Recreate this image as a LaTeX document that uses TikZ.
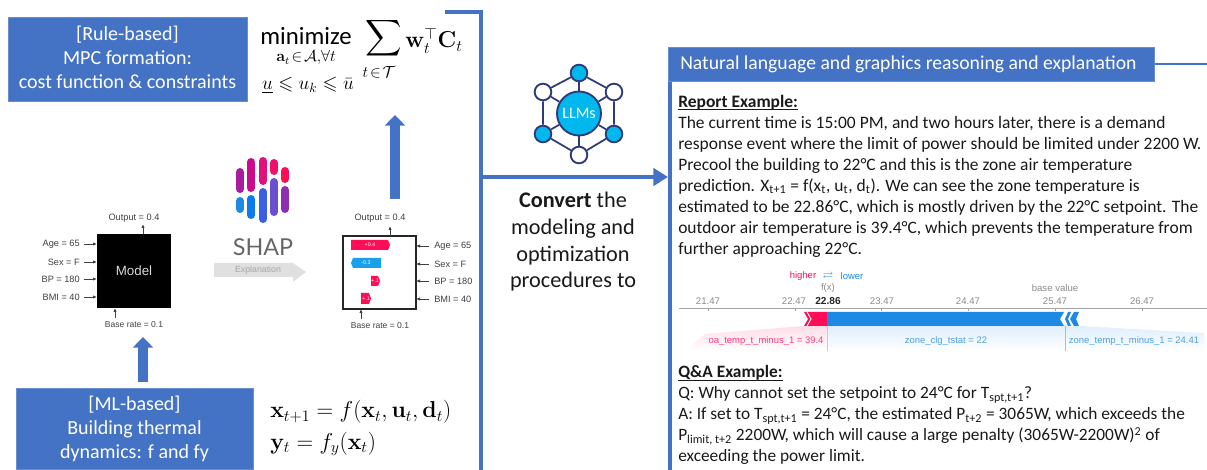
\documentclass[tikz,border=0pt]{standalone}
\usepackage{amsmath,amssymb}
\usepackage[no-math]{fontspec}
\setmainfont{Carlito}
\newfontfamily\shapfont{Liberation Sans}
\newfontfamily\logofont{Lato}
\usetikzlibrary{arrows.meta}
\definecolor{panelblue}{HTML}{4472C4}
\definecolor{llmcyan}{HTML}{00B7EE}
\definecolor{llmnavy}{HTML}{2E3A7A}
\definecolor{shappink}{HTML}{FF0D57}
\definecolor{shapblue}{HTML}{1E88E5}
\definecolor{shapgrey}{HTML}{8A8A8A}
\newcommand{\headline}[1]{\vphantom{\textbf{#1}}\underline{\smash{\textbf{#1}}}}
\tikzset{
  bluebox/.style={draw=panelblue!80!white, fill=panelblue, text=white, align=center, inner sep=0pt},
  boxtext/.style={text=white, align=center, font=\fontsize{15}{18}\selectfont},
  rail/.style={draw=panelblue, line width=3.2pt},
  blockarrow/.style={draw=panelblue, line width=7.5pt, -{Triangle[length=8pt, width=15pt]}},
  shaplabel/.style={text=black!75, font=\shapfont\fontsize{6.9}{8}\selectfont, inner sep=0pt},
  baselabel/.style={text=black!75, font=\shapfont\fontsize{6.4}{8}\selectfont, inner sep=0pt},
  tinyarrow/.style={draw=black!75, line width=0.6pt, -{Latex[length=3pt, width=2.5pt]}},
  axislabel/.style={text=shapgrey, font=\shapfont\fontsize{7.2}{8}\selectfont, inner sep=0pt},
  plotlabel/.style={font=\shapfont\fontsize{7.1}{8}\selectfont, inner sep=0pt},
  logobar/.style={line width=6pt, line cap=round},
  llmnode/.style={circle, draw=llmnavy, line width=1.4pt, minimum size=12.5pt, inner sep=0pt},
  llmedge/.style={draw=llmnavy, line width=1.3pt},
  bodytext/.style={align=left, anchor=north west, inner sep=0pt, text=black!90,
    font=\fontsize{13.1}{15.75}\selectfont},
  formula/.style={inner sep=0pt, text=black}
}
\definecolor{barone}{HTML}{A81D9E}
\definecolor{bartwo}{HTML}{CC0A8E}
\definecolor{barthree}{HTML}{E0107C}
\definecolor{barfour}{HTML}{F0106A}
\definecolor{barfive}{HTML}{0A7CF0}
\definecolor{barsix}{HTML}{3A5FE0}
\definecolor{barseven}{HTML}{6A4FD0}
\definecolor{bareight}{HTML}{8E2FB0}
\begin{document}
\begin{tikzpicture}[x=0.75pt, y=-0.75pt]
    \useasboundingbox (0, 0) rectangle (1207, 470);

    % Frame rails
    \coordinate (railtop) at (445, 12);
    \coordinate (railcorner) at (481, 12);
    \coordinate (railend) at (481, 470);
    \draw [rail] (railtop) -- (railcorner) -- (railend);
    \coordinate (panelend) at (670, 470);

    % Rule based box
    \node (rulebox) [bluebox, minimum width=179pt, minimum height=63pt] at (127.5, 59) {};
    \node (ruletext) [boxtext] at (127.5, 57.5) {[Rule-based]\\MPC formation:\\cost function \& constraints};

    % MPC formula
    \node (minword) [formula] at (306, 36) {\fontsize{18.6}{20}\selectfont minimize};
    \node (minsub) [formula] at (306, 58) {\fontsize{11.5}{13}\selectfont $\mathbf{a}_t\!\in\!\mathcal{A},\!\forall t$};
    \node (sumsign) [formula] at (384, 38) {\fontsize{19}{22}\selectfont $\displaystyle\sum$};
    \node (sumsub) [formula] at (379, 72) {\fontsize{12}{14}\selectfont $t\!\in\!\mathcal{T}$};
    \node (sumterm) [formula] at (434, 41) {\fontsize{17}{20}\selectfont $\mathbf{w}_t^{\top}\mathbf{C}_t$};
    \node (bounds) [formula] at (308, 85) {\fontsize{14.5}{17}\selectfont $\underline{u}\leqslant u_k\leqslant \bar{u}$};

    % Arrow up to formula
    \coordinate (upfrom) at (395, 199);
    \coordinate (upto) at (395, 115);
    \draw [blockarrow] (upfrom) -- (upto);

    % SHAP logo
    \draw [logobar, draw=barone] (240, 172) -- (240, 189);
    \draw [logobar, draw=bartwo] (251, 162) -- (251, 188);
    \draw [logobar, draw=barthree] (263, 161) -- (263, 181);
    \draw [logobar, draw=barfour] (274, 163) -- (274, 171);
    \draw [logobar, draw=shappink] (285, 171) -- (285, 179);
    \draw [logobar, draw=shapblue] (240, 201) -- (240, 209);
    \draw [logobar, draw=barfive] (251, 199) -- (251, 215);
    \draw [logobar, draw=barsix] (263, 192) -- (263, 219);
    \draw [logobar, draw=barseven] (274, 182) -- (274, 212);
    \draw [logobar, draw=bareight] (285, 190) -- (285, 209);
    \node (shapword) [text=black!60, inner sep=0pt, font=\logofont\fontsize{17.5}{20}\selectfont] at (263, 247) {SHAP};

    % Explanation arrow
    \fill [black!12] (214, 263) -- (293, 263) -- (306, 272) -- (293, 282) -- (293, 277) -- (214, 277) -- cycle;
    \node (explain) [text=black!35, inner sep=0pt, font=\shapfont\fontsize{6.6}{8}\selectfont] at (258, 270) {Explanation};

    % Model box
    \node (model) [fill=black, text=white!85!black, minimum width=55.5pt, minimum height=55.5pt, inner sep=0pt,
          font=\shapfont\fontsize{10}{12}\selectfont] at (134, 271) {Model};
    \node (moutput) [shaplabel] at (134, 218) {Output = 0.4};
    \coordinate (mout) at (143, 224);
    \coordinate (mtop) at (143, 234);
    \draw [tinyarrow] (mtop) -- (mout);
    \node (mbase) [baselabel] at (134, 325) {Base rate = 0.1};
    \coordinate (mbasefrom) at (115, 318);
    \coordinate (mbaseto) at (115, 308);
    \draw [tinyarrow] (mbasefrom) -- (mbaseto);

    % Model inputs
    \node (mage) [shaplabel, anchor=east] at (80, 244) {Age = 65};
    \node (msex) [shaplabel, anchor=east] at (80, 262) {Sex = F};
    \node (mbp) [shaplabel, anchor=east] at (80, 279) {BP = 180};
    \node (mbmi) [shaplabel, anchor=east] at (80, 297) {BMI = 40};
    \coordinate (magefrom) at (84, 244);
    \coordinate (mageto) at (97, 244);
    \coordinate (msexfrom) at (84, 262);
    \coordinate (msexto) at (97, 262);
    \coordinate (mbpfrom) at (84, 279);
    \coordinate (mbpto) at (97, 279);
    \coordinate (mbmifrom) at (84, 297);
    \coordinate (mbmito) at (97, 297);
    \draw [tinyarrow] (magefrom) -- (mageto);
    \draw [tinyarrow] (msexfrom) -- (msexto);
    \draw [tinyarrow] (mbpfrom) -- (mbpto);
    \draw [tinyarrow] (mbmifrom) -- (mbmito);

    % Explained model box
    \node (shapbox) [draw=black!85, line width=1.5pt, minimum width=54.5pt, minimum height=54.5pt, inner sep=0pt] at (379.5, 272.5) {};
    \fill [shappink] (351, 240) -- (388, 240) -- (390, 245) -- (388, 250) -- (351, 250) -- cycle;
    \fill [shapblue!80!cyan] (353, 258) -- (381, 258) -- (381, 268) -- (353, 268) -- (351, 263) -- cycle;
    \fill [shappink] (371, 276) -- (378, 276) -- (380, 281) -- (378, 286) -- (371, 286) -- cycle;
    \fill [shappink] (361, 293) -- (369, 293) -- (371, 298.5) -- (369, 304) -- (361, 304) -- cycle;
    \node (rowone) [text=white, inner sep=0pt, font=\shapfont\fontsize{4}{5}\selectfont] at (370, 245) {+0.4};
    \node (rowtwo) [text=white, inner sep=0pt, font=\shapfont\fontsize{4}{5}\selectfont] at (366, 263) {-0.3};
    \node (rowthree) [text=white, inner sep=0pt, font=\shapfont\fontsize{4}{5}\selectfont] at (375, 281) {+.1};
    \node (rowfour) [text=white, inner sep=0pt, font=\shapfont\fontsize{4}{5}\selectfont] at (366, 298.5) {+.1};
    \node (soutput) [shaplabel] at (380, 218.5) {Output = 0.4};
    \coordinate (sout) at (390, 226);
    \coordinate (stop) at (390, 236);
    \draw [tinyarrow] (stop) -- (sout);
    \node (sbase) [baselabel] at (380, 326) {Base rate = 0.1};
    \coordinate (sbasefrom) at (361, 319);
    \coordinate (sbaseto) at (361, 309);
    \draw [tinyarrow] (sbasefrom) -- (sbaseto);

    % Explained model inputs
    \node (sage) [shaplabel, anchor=west] at (434, 246) {Age = 65};
    \node (ssex) [shaplabel, anchor=west] at (434, 264) {Sex = F};
    \node (sbp) [shaplabel, anchor=west] at (434, 281) {BP = 180};
    \node (sbmi) [shaplabel, anchor=west] at (434, 299) {BMI = 40};
    \coordinate (sagefrom) at (429, 246);
    \coordinate (sageto) at (416, 246);
    \coordinate (ssexfrom) at (429, 264);
    \coordinate (ssexto) at (416, 264);
    \coordinate (sbpfrom) at (429, 281);
    \coordinate (sbpto) at (416, 281);
    \coordinate (sbmifrom) at (429, 299);
    \coordinate (sbmito) at (416, 299);
    \draw [tinyarrow] (sagefrom) -- (sageto);
    \draw [tinyarrow] (ssexfrom) -- (ssexto);
    \draw [tinyarrow] (sbpfrom) -- (sbpto);
    \draw [tinyarrow] (sbmifrom) -- (sbmito);

    % Arrow up from ML box
    \coordinate (mlfrom) at (143, 382);
    \coordinate (mlto) at (143, 337);
    \draw [blockarrow] (mlfrom) -- (mlto);

    % ML based box
    \node (mlbox) [bluebox, minimum width=177.5pt, minimum height=61pt, anchor=north west] at (16, 388) {};
    \node (mltext) [boxtext] at (134.5, 428.5) {[ML-based]\\Building thermal\\dynamics: f and fy};

    % Dynamics formula
    \node (dynone) [formula, anchor=west] at (270, 412) {\fontsize{16.5}{20}\selectfont $\mathbf{x}_{t+1}=f(\mathbf{x}_t,\mathbf{u}_t,\mathbf{d}_t)$};
    \node (dyntwo) [formula, anchor=west] at (270, 444) {\fontsize{16.5}{20}\selectfont $\mathbf{y}_t=f_y(\mathbf{x}_t)$};

    % LLM icon
    \node (llmcore) [circle, draw=llmnavy, fill=llmcyan, line width=1.4pt, minimum size=33pt, inner sep=0pt,
          text=white, font=\fontsize{12}{14}\selectfont] at (579, 113.5) {LLMs};
    \node (llmtop) [llmnode, fill=llmcyan] at (579, 73) {};
    \node (llmtl) [llmnode, fill=white] at (543, 92) {};
    \node (llmtr) [llmnode, fill=white] at (614, 92) {};
    \node (llmbl) [llmnode, fill=llmcyan] at (543, 134) {};
    \node (llmbr) [llmnode, fill=llmcyan] at (614, 134) {};
    \node (llmbot) [llmnode, fill=white] at (579, 155) {};
    \draw [llmedge] (llmtop) -- (llmtl) -- (llmbl) -- (llmbot) -- (llmbr) -- (llmtr) -- (llmtop);
    \draw [llmedge] (llmcore) -- (llmtop);
    \draw [llmedge] (llmcore) -- (llmtl);
    \draw [llmedge] (llmcore) -- (llmtr);
    \draw [llmedge] (llmcore) -- (llmbl);
    \draw [llmedge] (llmcore) -- (llmbr);
    \draw [llmedge] (llmcore) -- (llmbot);

    % Convert arrow
    \coordinate (convfrom) at (481, 177);
    \coordinate (convto) at (668, 177);
    \draw [draw=panelblue, line width=3.2pt, -{Triangle[length=11pt, width=13pt]}] (convfrom) -- (convto);
    \node (convtext) [align=center, inner sep=0pt, text=black!90, font=\fontsize{16.7}{20}\selectfont] at (573, 242)
          {\textbf{Convert} the\\modeling and\\optimization\\procedures to};

    % Right panel
    \node (headbox) [bluebox, minimum width=364.5pt, minimum height=25.5pt, anchor=north west] at (668, 47) {};
    \node (headtext) [text=white, inner sep=0pt, anchor=west, font=\fontsize{14.75}{17}\selectfont] at (680, 64)
          {Natural language and graphics reasoning and explanation};
    \coordinate (headend) at (1207, 64);
    \draw [draw=panelblue, line width=2.2pt] (headbox.east |- headend) -- (headend);
    \draw [rail] (headbox.south west -| panelend) -- (panelend);

    % Report example
    \node (report) [bodytext] at (678, 94.5) {\headline{Report Example:}\\
      The current time is 15:00 PM, and two hours later, there is a demand\\
      response event where the limit of power should be limited under 2200 W.\\
      Precool the building to 22°C and this is the zone air temperature\\
      prediction. X\textsubscript{t+1} = f(x\textsubscript{t}, u\textsubscript{t}, d\textsubscript{t}). We can see the zone temperature is\\
      estimated to be 22.86°C, which is mostly driven by the 22°C setpoint. The\\
      outdoor air temperature is 39.4°C, which prevents the temperature from\\
      further approaching 22°C.};

    % Force plot labels
    \node (higher) [plotlabel, text=shappink] at (803, 276) {higher};
    \node (swap) [plotlabel, text=shapblue] at (828, 276) {$\rightleftarrows$};
    \node (lower) [plotlabel, text=shapblue] at (852, 276) {lower};
    \node (fofx) [axislabel] at (828, 288) {f(x)};
    \node (basevalue) [axislabel] at (1055, 288) {base value};
    \node (tickone) [axislabel] at (708, 301) {21.47};
    \node (ticktwo) [axislabel] at (794, 301) {22.47};
    \node (tickval) [plotlabel, text=black!85, font=\shapfont\bfseries\fontsize{7.6}{8}\selectfont] at (828, 301) {22.86};
    \node (tickthree) [axislabel] at (882, 301) {23.47};
    \node (tickfour) [axislabel] at (968, 301) {24.47};
    \node (tickfive) [axislabel] at (1055, 301) {25.47};
    \node (ticksix) [axislabel] at (1142, 301) {26.47};

    % Force plot axis
    \draw [black!35, line width=0.7pt] (679, 308) -- (1207, 308);
    \draw [black!35, line width=0.6pt] (708, 308) -- (708, 311);
    \draw [black!35, line width=0.6pt] (795, 308) -- (795, 311);
    \draw [black!35, line width=0.6pt] (881, 308) -- (881, 311);
    \draw [black!35, line width=0.6pt] (968, 308) -- (968, 311);
    \draw [black!35, line width=0.6pt] (1055, 308) -- (1055, 311);
    \draw [black!35, line width=0.6pt] (1142, 308) -- (1142, 311);

    % Force plot fans
    \shade [top color=shappink!14, bottom color=white] (705, 334) -- (804, 326) -- (827, 326) -- (827, 351) -- (685, 351) -- cycle;
    \shade [top color=shapblue!14, bottom color=white] (827, 326) -- (1065, 326) -- (1065, 351) -- (827, 351) -- cycle;
    \shade [top color=shapblue!14, bottom color=white] (1065, 326) -- (1079, 326) -- (1204, 333) -- (1204, 351) -- (1065, 351) -- cycle;
    \draw [shappink!30, line width=0.6pt] (827, 326) -- (827, 351);
    \draw [shapblue!50, line width=0.6pt] (1065, 326) -- (1065, 351);

    % Force plot bars
    \fill [shappink] (804, 312) -- (827, 312) -- (827, 326) -- (804, 326) -- (808, 319) -- cycle;
    \draw [white, line width=0.7pt] (807, 312) -- (811, 319) -- (807, 326);
    \fill [shapblue] (827, 312) -- (1064, 312) -- (1060, 319) -- (1064, 326) -- (827, 326) -- cycle;
    \fill [shapblue] (1065, 319) -- (1068, 312) -- (1071, 312) -- (1068, 319) -- (1071, 326) -- (1068, 326) -- cycle;
    \fill [shapblue] (1070, 319) -- (1074, 312) -- (1079, 312) -- (1076, 319) -- (1079, 326) -- (1074, 326) -- cycle;
    \node (oalabel) [plotlabel, text=shappink!80] at (766, 341) {oa\_temp\_t\_minus\_1 = 39.4};
    \node (clglabel) [plotlabel, text=shapblue!80] at (946, 341) {zone\_clg\_tstat = 22};
    \node (zonelabel) [plotlabel, text=shapblue!80] at (1134, 341) {zone\_temp\_t\_minus\_1 = 24.41};

    % Q and A example
    \node (qanda) [bodytext, font=\fontsize{13}{15.75}\selectfont] at (678, 365.5) {\headline{Q\&A Example:}\\
      Q: Why cannot set the setpoint to 24°C for T\textsubscript{spt,t+1}?\\
      A: If set to T\textsubscript{spt,t+1} = 24°C, the estimated P\textsubscript{t+2} = 3065W, which exceeds the\\
      P\textsubscript{limit, t+2} 2200W, which will cause a large penalty (3065W-2200W)\textsuperscript{2} of\\
      exceeding the power limit.};
\end{tikzpicture}
\end{document}
